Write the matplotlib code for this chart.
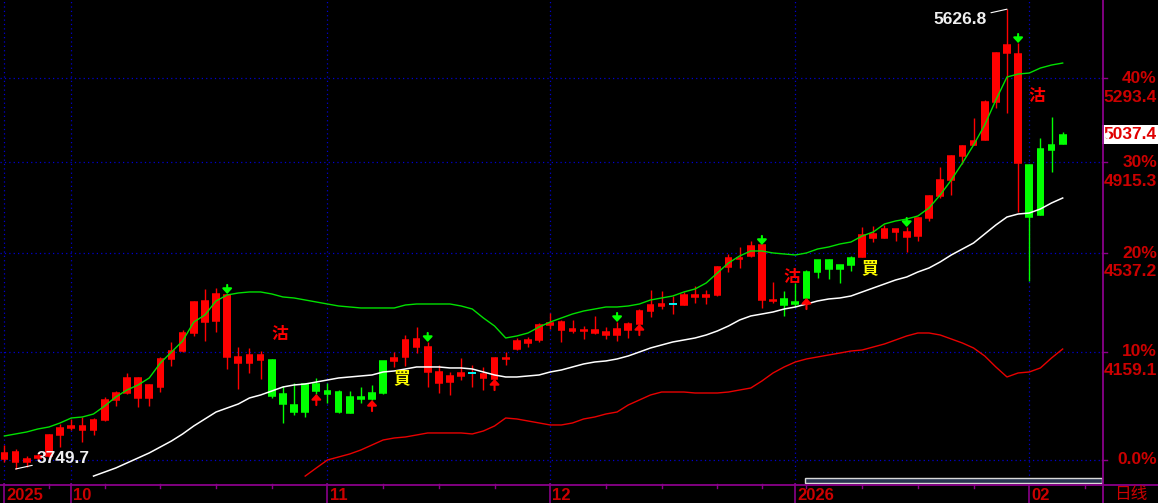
import matplotlib
matplotlib.use("Agg")
import matplotlib.pyplot as plt
import matplotlib.transforms as mtrans
from matplotlib.lines import Line2D
from matplotlib.patches import Rectangle
from matplotlib.ticker import NullLocator

# ---------------- data ----------------
opens = [3803.2, 3806.5, 3783.0, 3793.0, 3864.0, 3888.0, 3894.9, 3894.9, 3915.5, 3985.2,
         4009.9, 4063.4, 4063.4, 4038.4, 4132.2, 4161.3, 4228.0, 4345.3, 4349.2, 4376.2,
         4372.3, 4139.5, 4146.8, 4146.8, 3999.3, 3971.2, 3943.2, 3943.2, 4016.9, 4006.4,
         3943.2, 3939.8, 3988.7, 3988.7, 4009.9, 4135.8, 4202.0, 4205.7, 4176.1, 4085.0,
         4070.6, 4081.4, 4081.4, 4077.8, 4135.8, 4135.8, 4198.3, 4202.0, 4258.0, 4265.5,
         4269.2, 4243.0, 4239.2, 4239.2, 4231.7, 4243.0, 4261.7, 4310.9, 4333.8, 4337.6,
         4337.6, 4372.3, 4372.3, 4372.3, 4481.7, 4517.4, 4517.4, 4565.5, 4569.6, 4353.0,
         4333.8, 4337.6, 4360.7, 4461.9, 4473.8, 4473.8, 4489.6, 4610.0, 4614.1, 4634.5,
         4634.5, 4622.3, 4679.7, 4771.4, 4839.3, 4942.9, 4986.7, 5008.7, 5184.1, 5413.2,
         5451.5, 5408.4, 4683.8, 4692.1, 4969.1, 4995.4]
highs = [3830.1, 3816.6, 3793.0, 3803.2, 3867.5, 3901.7, 3919.0, 3925.9, 3922.4, 3995.8,
         4016.9, 4081.4, 4067.0, 4041.9, 4139.5, 4194.6, 4239.2, 4349.2, 4395.5, 4399.4,
         4376.2, 4176.1, 4172.4, 4161.3, 4132.2, 4034.8, 4045.5, 4045.5, 4063.4, 4045.5,
         4020.5, 4016.9, 4031.2, 4038.4, 4124.9, 4157.6, 4220.6, 4250.5, 4194.6, 4110.4,
         4085.0, 4135.8, 4110.4, 4103.1, 4139.5, 4157.6, 4209.4, 4213.2, 4265.5, 4303.3,
         4276.8, 4276.8, 4254.2, 4291.9, 4250.5, 4269.2, 4269.2, 4318.5, 4391.6, 4387.7,
         4368.4, 4383.8, 4407.2, 4391.6, 4485.6, 4533.4, 4561.5, 4585.7, 4569.6, 4422.7,
         4387.7, 4418.8, 4469.8, 4509.4, 4513.4, 4489.6, 4525.4, 4642.7, 4646.8, 4650.9,
         4634.5, 4642.7, 4683.8, 4775.6, 4895.2, 4947.3, 4991.1, 5111.4, 5193.3, 5417.9,
         5626.8, 5461.2, 4903.8, 5022.0, 5116.0, 5048.7]
lows = [3773.0, 3749.7, 3756.4, 3779.7, 3789.7, 3823.3, 3881.1, 3840.2, 3864.0, 3912.1,
        3964.2, 4006.4, 3960.7, 3964.2, 4013.4, 4106.7, 4157.6, 4216.9, 4198.3, 4231.7,
        4095.8, 4024.1, 4081.4, 4059.8, 3992.3, 3905.1, 3932.8, 3925.9, 4006.4, 3974.6,
        3939.8, 3939.8, 3974.6, 3985.2, 4006.4, 4103.1, 4106.7, 4153.9, 4031.2, 4009.9,
        4002.9, 4056.2, 4031.2, 4020.5, 4059.8, 4110.4, 4165.0, 4176.1, 4194.6, 4243.0,
        4194.6, 4228.0, 4205.7, 4224.3, 4205.7, 4198.3, 4209.4, 4261.7, 4288.2, 4318.5,
        4299.5, 4333.8, 4341.5, 4337.6, 4368.4, 4461.9, 4477.7, 4521.4, 4322.4, 4341.5,
        4292.0, 4326.2, 4360.7, 4438.4, 4434.4, 4418.8, 4465.9, 4521.4, 4581.6, 4597.8,
        4585.7, 4541.4, 4585.7, 4667.3, 4763.0, 4775.6, 4908.1, 4991.1, 5013.1, 5156.7,
        5133.9, 4704.5, 4426.6, 4692.1, 4873.6, 4995.4]
closes = [3783.0, 3773.0, 3773.0, 3786.3, 3793.0, 3864.0, 3888.0, 3881.1, 3881.1, 3915.5,
          3985.2, 4009.9, 3992.3, 3992.3, 4031.2, 4132.2, 4161.3, 4228.0, 4269.2, 4273.0,
          4139.5, 4117.6, 4117.6, 4128.5, 4128.5, 4006.4, 3967.7, 4041.9, 4041.9, 4016.9,
          4013.4, 3995.8, 3995.8, 4009.9, 4124.9, 4124.9, 4139.5, 4176.1, 4085.0, 4045.5,
          4049.0, 4070.6, 4081.4, 4063.4, 4059.8, 4132.2, 4168.7, 4190.8, 4202.0, 4258.0,
          4239.2, 4235.5, 4235.5, 4228.0, 4220.6, 4220.6, 4239.2, 4261.7, 4310.9, 4330.0,
          4337.6, 4333.8, 4364.6, 4364.6, 4372.3, 4481.7, 4513.4, 4525.4, 4353.0, 4349.2,
          4356.9, 4345.3, 4461.9, 4509.4, 4509.4, 4489.6, 4517.4, 4521.4, 4597.8, 4597.8,
          4622.3, 4601.9, 4605.9, 4679.7, 4771.4, 4839.3, 4942.9, 4991.1, 5013.1, 5184.1,
          5413.2, 4912.4, 4903.8, 4973.5, 4991.1, 5037.4]
# candle state colour: r = bull state, g = bear state, c = doji
states = list("r" * 24 + "g" * 11 + "r" * 7 + "c" + "r" * 17 + "c" + "r" * 9
              + "g" * 7 + "r" * 15 + "g" * 4)

upper_band = [3860.6, 3867.5, 3874.3, 3884.5, 3891.4, 3905.2, 3922.4, 3925.9, 3936.3, 3964.2,
              3995.8, 4020.5, 4038.4, 4063.4, 4117.6, 4157.6, 4198.3, 4269.2, 4295.8, 4349.2,
              4372.3, 4380.0, 4383.9, 4383.9, 4376.2, 4364.6, 4360.7, 4353.0, 4345.3, 4337.6,
              4330.0, 4326.2, 4322.4, 4322.4, 4322.4, 4322.4, 4333.8, 4337.6, 4337.6, 4337.6,
              4337.6, 4330.0, 4318.5, 4284.4, 4254.2, 4209.4, 4216.9, 4228.0, 4250.5, 4269.2,
              4284.4, 4299.5, 4310.9, 4318.5, 4326.2, 4326.2, 4330.0, 4337.6, 4353.0, 4360.7,
              4368.4, 4383.9, 4395.5, 4418.8, 4458.0, 4497.5, 4525.4, 4545.4, 4545.4, 4537.4,
              4533.4, 4529.4, 4537.4, 4553.4, 4561.5, 4573.6, 4581.6, 4606.0, 4622.3, 4655.0,
              4667.3, 4675.5, 4688.0, 4721.2, 4775.6, 4839.3, 4912.4, 4991.1, 5080.0, 5193.3,
              5299.8, 5313.8, 5318.5, 5342.0, 5356.2, 5365.6]
mid_start = 8
mid_band = [3726.4, 3739.7, 3753.1, 3769.7, 3786.4, 3803.2, 3823.3, 3843.6, 3867.5, 3894.9,
            3919.0, 3943.2, 3957.2, 3971.2, 3992.3, 4002.9, 4016.9, 4031.2, 4038.4, 4041.9,
            4049.0, 4056.2, 4063.4, 4067.0, 4070.6, 4074.2, 4085.0, 4088.6, 4095.8, 4103.1,
            4103.1, 4103.1, 4099.5, 4099.5, 4095.8, 4085.0, 4074.2, 4067.0, 4067.0, 4070.6,
            4074.2, 4085.0, 4092.2, 4103.1, 4114.0, 4121.2, 4124.9, 4132.2, 4143.1, 4157.6,
            4172.4, 4183.5, 4194.6, 4202.0, 4209.4, 4220.6, 4235.5, 4254.2, 4276.8, 4292.0,
            4299.5, 4307.1, 4318.5, 4326.2, 4337.6, 4349.2, 4356.9, 4360.7, 4368.4, 4383.9,
            4399.4, 4414.9, 4430.5, 4442.3, 4461.9, 4477.7, 4501.5, 4529.4, 4553.4, 4577.5,
            4614.1, 4650.9, 4683.8, 4696.2, 4700.3, 4717.0, 4742.1, 4763.0]
low_start = 27
low_band = [3726.4, 3753.1, 3779.7, 3789.7, 3799.8, 3813.2, 3830.1, 3847.0, 3853.8, 3857.2,
            3864.0, 3870.9, 3870.9, 3870.9, 3870.9, 3867.5, 3877.7, 3894.9, 3922.4, 3919.0,
            3912.1, 3905.2, 3898.3, 3898.3, 3905.2, 3919.0, 3925.9, 3936.3, 3943.2, 3967.7,
            3985.2, 4002.9, 4013.4, 4013.4, 4013.4, 4009.9, 4009.9, 4009.9, 4013.4, 4020.5,
            4027.6, 4052.6, 4081.4, 4103.1, 4121.2, 4132.2, 4139.5, 4146.8, 4153.9, 4161.3,
            4165.0, 4176.1, 4187.2, 4202.0, 4216.9, 4228.0, 4228.0, 4220.6, 4205.7, 4190.8,
            4172.4, 4143.1, 4103.1, 4067.0, 4081.4, 4085.0, 4099.5, 4135.8, 4168.7]

sell_arrow_idx = [20, 38, 55, 68, 81, 91]
buy_arrow_idx = [28, 33, 44, 57, 72]
sell_marks = [(24.75, 4224.0), (70.7, 4442.0), (92.7, 5211.7)]   # 沽
buy_marks = [(35.7, 4063.4), (77.7, 4477.7)]                    # 買

month_idx = [0, 6, 29, 49, 71, 92]
month_labels = ["2025", "10", "11", "12", "2026", "02"]
week_idx = [4, 9, 14, 19, 24, 34, 39, 44, 54, 59, 64, 68, 72, 77, 82, 87, 97]

base_price = 3781.0
pct_levels = [0.0, 0.1, 0.2, 0.3, 0.4]
pct_labels = ["0.0%", "10%", "20%", "30%", "40%"]
price_labels = ["", "4159.1", "4537.2", "4915.3", "5293.4"]
last_price = 5037.4
peak_idx, peak_label = 90, "5626.8"
trough_idx, trough_label = 1, "3749.7"

# ---------------- style ----------------
W, H = 1158, 503
RED = "#ff0000"
GREEN = "#00ff00"
CYAN = "#00ffff"
BAND_G = "#00e000"
BAND_R = "#e80000"
GRID = "#0000d0"
PURPLE = "#8a008a"
LBL = "#cc0000"
NUMFONT = "Liberation Sans"
CJK = ["Noto Sans CJK TC", "DejaVu Sans"]

fig = plt.figure(figsize=(W / 100, H / 100), dpi=100, facecolor="black")
ax = fig.add_axes([0, 19 / H, 1102 / W, 484 / H])
ax.set_facecolor("black")
ax.set_yscale("log")
ax.set_ylim(3700.4, 5672.6)
ax.set_xlim(-0.395, 98.53)
for s in ax.spines.values():
    s.set_visible(False)
for a in (ax.xaxis, ax.yaxis):
    a.set_major_locator(NullLocator())
    a.set_minor_locator(NullLocator())

# grid
for p in pct_levels:
    ax.axhline(base_price * (1 + p), color=GRID, lw=0.9, ls=(0, (1, 2.5)), zorder=1)
for m in month_idx:
    ax.axvline(m, color=GRID, lw=0.9, ls=(0, (1, 2.5)), zorder=1)

# candles
bw = 0.69
cmap = {"r": RED, "g": GREEN, "c": RED}
for i in range(len(opens)):
    col = cmap[states[i]]
    ax.vlines(i, lows[i], highs[i], color=col, lw=1.0, zorder=3)
    lo, hi = min(opens[i], closes[i]), max(opens[i], closes[i])
    ax.add_patch(Rectangle((i - bw / 2, lo), bw, hi - lo, facecolor=col,
                           edgecolor="none", zorder=4))
    hcol = CYAN if states[i] == "c" else col
    ax.hlines([opens[i], closes[i]], i - bw / 2, i + bw / 2, color=hcol, lw=1.1, zorder=4)

# bands
ax.plot(range(len(upper_band)), upper_band, color=BAND_G, lw=1.0, zorder=5)
ax.plot(range(mid_start, mid_start + len(mid_band)), mid_band, color="white", lw=1.1, zorder=5)
ax.plot(range(low_start, low_start + len(low_band)), low_band, color=BAND_R, lw=1.0, zorder=5)

# signal arrows
up_off = mtrans.offset_copy(ax.transData, fig=fig, x=0, y=6.5, units="points")
for i in sell_arrow_idx:
    ax.annotate("", xy=(i, highs[i]), xycoords=ax.transData,
                xytext=(i, highs[i]), textcoords=up_off,
                arrowprops=dict(arrowstyle="-|>,head_length=0.3,head_width=0.28",
                                color=GREEN, lw=1.5, shrinkA=0, shrinkB=0,
                                mutation_scale=10), zorder=6)
dn_off = mtrans.offset_copy(ax.transData, fig=fig, x=0, y=-8.0, units="points")
for i in buy_arrow_idx:
    ax.annotate("", xy=(i, lows[i]), xycoords=ax.transData,
                xytext=(i, lows[i]), textcoords=dn_off,
                arrowprops=dict(arrowstyle="-|>,head_length=0.3,head_width=0.28",
                                color=RED, lw=1.5, shrinkA=0, shrinkB=0,
                                mutation_scale=10), zorder=6)

for x, p in sell_marks:
    ax.text(x, p, "沽", color=RED, fontsize=12, fontweight="bold", family=CJK,
            ha="center", va="center", zorder=7)
for x, p in buy_marks:
    ax.text(x, p, "買", color="#ffff00", fontsize=12, fontweight="bold", family=CJK,
            ha="center", va="center", zorder=7)

# extreme annotations
ax.annotate(peak_label, xy=(peak_idx, highs[peak_idx]), xytext=(-14.5, -7.5),
            textcoords="offset points", ha="right", va="center", color="#f0f0f0",
            fontsize=12.5, fontweight="bold", family=NUMFONT,
            arrowprops=dict(arrowstyle="-", color="white", lw=0.8, shrinkA=1, shrinkB=0),
            zorder=8)
ax.annotate(trough_label, xy=(trough_idx, lows[trough_idx]), xytext=(15, 7.5),
            textcoords="offset points", ha="left", va="center", color="#f0f0f0",
            fontsize=12.5, fontweight="bold", family=NUMFONT,
            arrowprops=dict(arrowstyle="-", color="white", lw=0.8, shrinkA=1, shrinkB=0),
            zorder=8)

# frame lines (purple)
fig.add_artist(Line2D([0, 1], [1 - 484.5 / H] * 2, transform=fig.transFigure,
                      color=PURPLE, lw=1.3))
fig.add_artist(Line2D([1102.5 / W] * 2, [0, 1], transform=fig.transFigure,
                      color=PURPLE, lw=1.3))

# bottom axis ticks and labels
bx = mtrans.blended_transform_factory(ax.transData, ax.transAxes)
for w in week_idx:
    ax.plot([w, w], [0, -4 / 484], transform=bx, color=PURPLE, lw=1.0, clip_on=False)
for m, lab in zip(month_idx, month_labels):
    ax.plot([m, m], [0, -19 / 484], transform=bx, color=PURPLE, lw=1.2, clip_on=False)
    ax.annotate(lab, xy=(m, 0), xycoords=bx, xytext=(1.6, -3.2), textcoords="offset points",
                ha="left", va="top", color=LBL, fontsize=12, fontweight="bold",
                family=NUMFONT, annotation_clip=False)
fig.text(1131 / W, 1 - 486 / H, "日线", color=LBL, fontsize=12,
         family=["Noto Sans CJK SC", "DejaVu Sans"], ha="center", va="top")

# right axis labels
ry = mtrans.blended_transform_factory(fig.transFigure, ax.transData)
ry_off = mtrans.offset_copy(ry, fig=fig, x=0, y=-13.5, units="points")
for p, pl, prl in zip(pct_levels, pct_labels, price_labels):
    v = base_price * (1 + p)
    ax.plot([1102 / W, 1107 / W], [v, v], transform=ry, color=PURPLE, lw=1.0, clip_on=False)
    ax.text(1157 / W, v, pl, transform=ry, ha="right", va="center", color=LBL,
            fontsize=12.5, fontweight="bold", family=NUMFONT, clip_on=False)
    if prl:
        ax.text(1157 / W, v, prl, transform=ry_off, ha="right", va="center", color=LBL,
                fontsize=12.5, fontweight="bold", family=NUMFONT, clip_on=False)

# last price box
ax.text(1157 / W, last_price, f"{last_price:.1f}", transform=ry, ha="right", va="center",
        color="#e00000", fontsize=12.5, fontweight="bold", family=NUMFONT, clip_on=False,
        bbox=dict(boxstyle="square,pad=0.12", facecolor="white", edgecolor="none"), zorder=9)
ax.plot([1104.5 / W], [last_price], transform=ry, marker="<", ms=5, color="white",
        clip_on=False, zorder=9)

# scroll bar at bottom
fig.add_artist(Rectangle((805 / W, 1 - 483 / H), 297 / W, 5 / H, transform=fig.transFigure,
                         facecolor="#283450", edgecolor="#d8d8d8", lw=1.0))

fig.savefig("out.png", dpi=100, facecolor="black")
